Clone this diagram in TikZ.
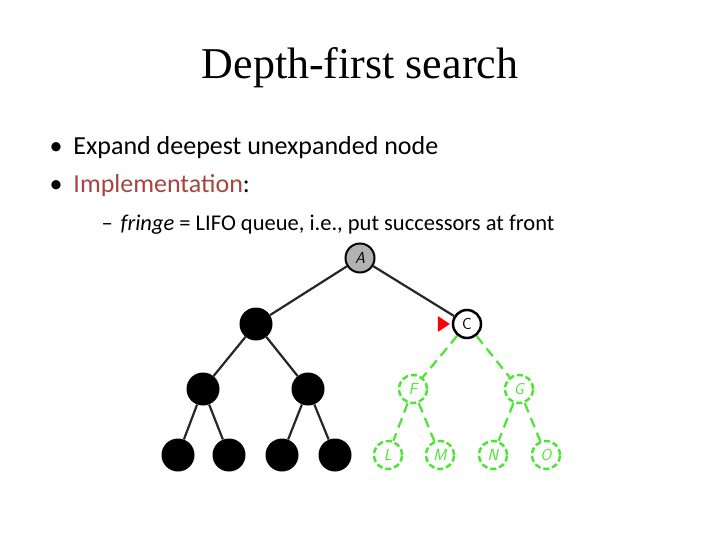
\documentclass[tikz,border=0pt]{standalone}
\usepackage{fontspec}
\setmainfont{Liberation Serif}
\newfontfamily\bodyfont{Carlito}
\definecolor{implred}{rgb}{0.65, 0.27, 0.25}
\definecolor{fringegreen}{rgb}{0.3, 0.9, 0.2}
\begin{document}
\begin{tikzpicture}[x=1pt,y=-1pt,
	expanded/.style={circle, fill=black, minimum size=33pt, inner sep=0pt},
	current/.style={circle, draw=black, line width=2.5pt, fill=white, minimum size=28pt, inner sep=0pt, font=\sffamily\fontsize{16}{18}\selectfont},
	fringe/.style={circle, draw=fringegreen, dash pattern=on 6pt off 3pt, line width=2.5pt, minimum size=28pt, inner sep=0pt, text=fringegreen, font=\sffamily\itshape\fontsize{16}{18}\selectfont},
	tree/.style={line width=2.2pt, black!85},
	fringeedge/.style={line width=2.2pt, fringegreen, dash pattern=on 10pt off 6pt}]
	\useasboundingbox (0,0) rectangle (720,540);
	\node (title) at (360,68) {\fontsize{44}{50}\selectfont Depth-first search};
	\node[anchor=west] (b1) at (46,148) {\bodyfont\fontsize{26}{30}\selectfont\textbullet\hspace{11pt}Expand deepest unexpanded node};
	\node[anchor=west] (b2) at (46,186) {\bodyfont\fontsize{26}{30}\selectfont\textbullet\hspace{11pt}\textcolor{implred}{Implementation}:};
	\node[anchor=west] (b3) at (98,225) {\bodyfont\fontsize{22.5}{26}\selectfont \textendash\hspace{8pt}\textit{fringe} = LIFO queue, i.e., put successors at front};
	% nodes
	\node[circle, draw=black, line width=2pt, fill=black!30, minimum size=29pt, inner sep=0pt, font=\sffamily\itshape\fontsize{16}{18}\selectfont] (a) at (360,258) {A};
	\node[expanded] (b) at (256,324) {};
	\node[current] (c) at (467,324) {C};
	\node[expanded] (d) at (203,389) {};
	\node[expanded] (e) at (308,389) {};
	\node[fringe] (f) at (413,389) {F};
	\node[fringe] (g) at (519,389) {G};
	\node[expanded] (h) at (178,455) {};
	\node[expanded] (i) at (229,455) {};
	\node[expanded] (j) at (282,455) {};
	\node[expanded] (k) at (335,455) {};
	\node[fringe] (l) at (388,455) {L};
	\node[fringe] (m) at (440,455) {M};
	\node[fringe] (n) at (493,455) {N};
	\node[fringe] (o) at (546,455) {O};
	% edges
	\draw[tree] (a) -- (b); \draw[tree] (a) -- (c);
	\draw[tree] (b) -- (d); \draw[tree] (b) -- (e);
	\draw[tree] (d) -- (h); \draw[tree] (d) -- (i);
	\draw[tree] (e) -- (j); \draw[tree] (e) -- (k);
	\draw[fringeedge] (c) -- (f); \draw[fringeedge] (c) -- (g);
	\draw[fringeedge] (f) -- (l); \draw[fringeedge] (f) -- (m);
	\draw[fringeedge] (g) -- (n); \draw[fringeedge] (g) -- (o);
	% pointer
	\coordinate (tip) at ([xshift=-2pt]c.west);
	\fill[red] (tip) -- ++(-12,-8) -- ++(0,16) -- cycle;
\end{tikzpicture}
\end{document}
